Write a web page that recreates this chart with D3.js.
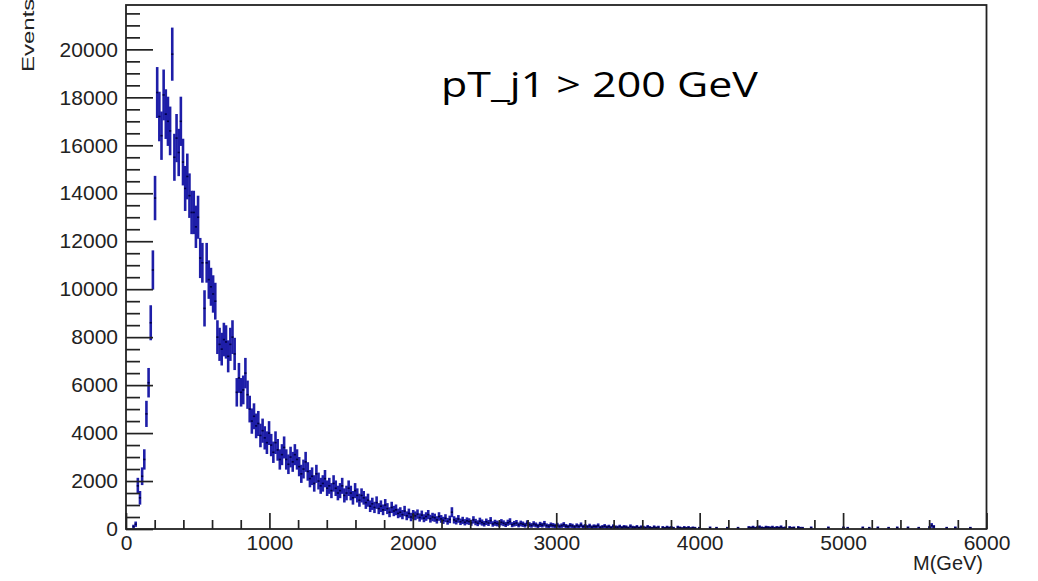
<!DOCTYPE html>
<html><head><meta charset="utf-8">
<script src="https://cdn.jsdelivr.net/npm/d3@7"></script>
<style>html,body{margin:0;padding:0;background:#fff;} svg{display:block;}</style>
</head><body>
<svg id="c" width="1038" height="581"></svg>
<script>
// ---- data ----
const binWidth = 15;           // GeV per bin, 400 bins from 0 to 6000
const xTickValues = [0, 1000, 2000, 3000, 4000, 5000, 6000];
const yTickValues = [0, 2000, 4000, 6000, 8000, 10000, 12000, 14000, 16000, 18000, 20000];
const xLabel = "M(GeV)";
const yLabel = "Events";
const note = "pT_j1 > 200 GeV";
const eventWeight = 62;        // per-event weight, error = sqrt(weight * content)
const counts = [
  0, 0, 0, 100, 200, 1800, 1300, 2200, 2900, 4800,
  6100, 8600, 10800, 13800, 18200, 17200, 16400, 18100, 17300, 17000,
  16600, 19800, 15500, 16300, 15700, 17000, 15300, 14200, 14700, 13900,
  13200, 13200, 12600, 13000, 11300, 11100, 9200, 11100, 10400, 10100,
  9800, 9500, 8000, 7700, 7500, 7900, 7800, 7200, 7700, 8000,
  7300, 5700, 6300, 5700, 5800, 6500, 5600, 5000, 4500, 4700,
  4300, 4400, 3900, 4100, 3800, 3600, 4000, 3500, 3200, 3600,
  3300, 2900, 3100, 3400, 2900, 2700, 3000, 2800, 3100, 2900,
  2600, 2300, 2500, 2800, 2400, 2100, 2200, 1900, 2300, 2000,
  1800, 1900, 2100, 1700, 1800, 1600, 1900, 1700, 1500, 1600,
  1800, 1400, 1500, 1700, 1500, 1300, 1600, 1400, 1200, 1400,
  1300, 1100, 1200, 950, 1050, 900, 1100, 850, 950, 800,
  1000, 850, 700, 900, 750, 800, 650, 700, 600, 750,
  550, 650, 500, 600, 550, 620, 480, 580, 450, 520,
  600, 430, 500, 470, 380, 520, 420, 360, 450, 320,
  400, 700, 380, 330, 420, 300, 360, 280, 340, 310,
  260, 380, 290, 240, 330, 270, 220, 300, 250, 350,
  210, 260, 230, 200, 280, 240, 190, 260, 310, 180,
  220, 250, 170, 230, 200, 160, 240, 180, 150, 210,
  170, 130, 190, 160, 220, 140, 120, 170, 150, 130,
  160, 110, 140, 180, 120, 100, 150, 130, 90, 140,
  110, 170, 100, 120, 90, 130, 80, 110, 100, 140,
  70, 90, 120, 80, 100, 60, 110, 80, 70, 100,
  60, 90, 80, 50, 110, 70, 60, 90, 50, 80,
  70, 50, 90, 60, 40, 80, 50, 70, 0, 60,
  40, 70, 50, 60, 40, 0, 70, 50, 30, 60,
  40, 60, 30, 50, 40, 0, 40, 0, 0, 0,
  0, 50, 0, 0, 40, 0, 0, 0, 0, 40,
  0, 0, 0, 0, 40, 0, 0, 0, 0, 60,
  50, 70, 40, 60, 80, 50, 40, 70, 60, 50,
  70, 40, 60, 50, 80, 40, 50, 0, 60, 40,
  50, 0, 60, 40, 40, 0, 0, 0, 50, 0,
  0, 0, 0, 0, 0, 0, 50, 0, 0, 0,
  0, 0, 0, 50, 0, 40, 0, 0, 0, 0,
  0, 0, 50, 0, 0, 40, 0, 0, 0, 50,
  0, 0, 0, 0, 40, 0, 0, 0, 50, 0,
  0, 0, 0, 50, 0, 0, 0, 0, 40, 0,
  0, 0, 0, 60, 150, 90, 0, 0, 0, 0,
  0, 40, 0, 0, 0, 50, 0, 0, 0, 0,
  0, 0, 40, 0, 0, 0, 0, 0, 0, 0
];

// ---- drawing ----
const svg = d3.select("#c");
const x = d3.scaleLinear().domain([0, 6000]).range([126, 986.5]);
const y = d3.scaleLinear().domain([0, 21850]).range([529, 5]);
const font = "'Liberation Sans', Arial, Helvetica, sans-serif";

const bins = counts.map((v, i) => ({lo: i * binWidth, hi: (i + 1) * binWidth, v: v, e: Math.sqrt(eventWeight * v)}))
  .filter(d => d.v > 0);

const data = svg.append("g");
data.selectAll("line.ey").data(bins).join("line")
  .attr("class", "ey")
  .attr("x1", d => x((d.lo + d.hi) / 2)).attr("x2", d => x((d.lo + d.hi) / 2))
  .attr("y1", d => y(Math.max(0, d.v - d.e))).attr("y2", d => y(d.v + d.e))
  .attr("stroke", "#1e1ea8").attr("stroke-width", 2.6);
data.selectAll("line.ex").data(bins).join("line")
  .attr("class", "ex")
  .attr("x1", d => x(d.lo)).attr("x2", d => x(d.hi))
  .attr("y1", d => y(d.v)).attr("y2", d => y(d.v))
  .attr("stroke", "#000046").attr("stroke-width", 1.6);

// axes (ticks drawn inward, ROOT style)
const xMinor = d3.range(0, 6001, 200).filter(v => v % 1000 !== 0);
const yMinor = d3.range(0, 21851, 500).filter(v => v % 2000 !== 0);

function styleAxis(g) {
  g.select(".domain").remove();
  g.selectAll(".tick line").attr("stroke", "#222").attr("stroke-width", 1.7);
  g.selectAll("text").attr("fill", "#222").style("font-family", font).style("font-size", "21px");
}

svg.append("g").attr("transform", "translate(0,529)")
  .call(d3.axisBottom(x).tickValues(xMinor).tickSize(-9).tickFormat(""))
  .call(styleAxis);
svg.append("g").attr("transform", "translate(0,529)")
  .call(d3.axisBottom(x).tickValues(xTickValues).tickSize(-16).tickPadding(6).tickFormat(d3.format("d")))
  .call(styleAxis);
svg.append("g").attr("transform", "translate(126,0)")
  .call(d3.axisLeft(y).tickValues(yMinor).tickSize(-14).tickFormat(""))
  .call(styleAxis);
svg.append("g").attr("transform", "translate(126,0)")
  .call(d3.axisLeft(y).tickValues(yTickValues).tickSize(-27).tickPadding(8).tickFormat(d3.format("d")))
  .call(styleAxis);

// frame
svg.append("rect").attr("x", 126).attr("y", 5).attr("width", 860.5).attr("height", 524)
  .attr("fill", "none").attr("stroke", "#222").attr("stroke-width", 1.8);

// axis titles
svg.append("text").text(xLabel)
  .attr("x", 983).attr("y", 570).attr("text-anchor", "end")
  .style("font-family", font).style("font-size", "20px").attr("fill", "#222");
svg.append("text").text(yLabel)
  .attr("transform", "translate(34,72) rotate(-90) scale(1,0.72)")
  .attr("text-anchor", "start")
  .style("font-family", font).style("font-size", "24px").attr("fill", "#222");

// annotation
svg.append("text").text(note)
  .attr("x", 441).attr("y", 97)
  .attr("textLength", 317).attr("lengthAdjust", "spacingAndGlyphs")
  .style("font-family", "'Open Sans', 'Noto Sans', sans-serif").style("font-size", "35px").attr("fill", "#000");
</script>
</body></html>
